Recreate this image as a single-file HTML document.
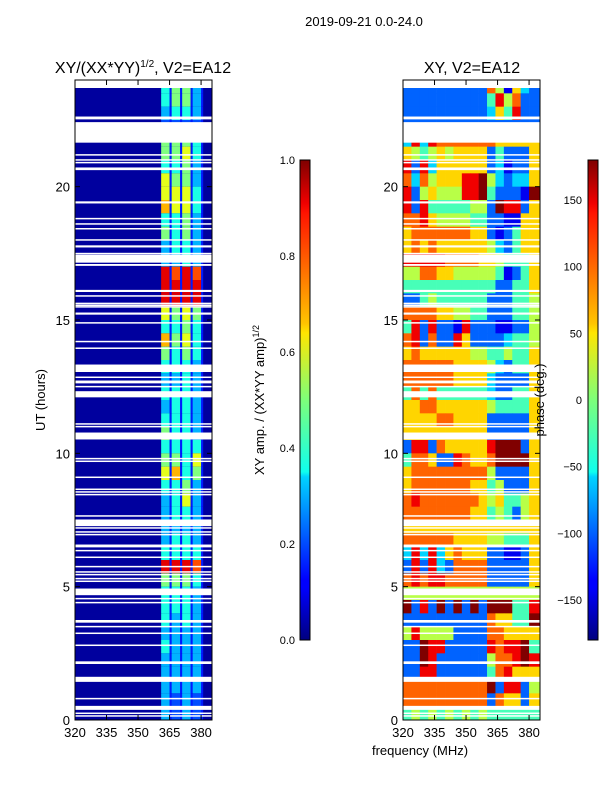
<!DOCTYPE html>
<html><head><meta charset="utf-8">
<style>
html,body{margin:0;padding:0;background:#fff;}
svg{display:block;font-family:"Liberation Sans","DejaVu Sans",sans-serif;}
</style></head>
<body>
<svg id="fig" width="600" height="800" viewBox="0 0 600 800" xmlns="http://www.w3.org/2000/svg">
<defs>
<linearGradient id="jet" x1="0" y1="1" x2="0" y2="0">
<stop offset="0" stop-color="#00007f"/>
<stop offset="0.11" stop-color="#0000ff"/>
<stop offset="0.125" stop-color="#0000ff"/>
<stop offset="0.34" stop-color="#00d4ff"/>
<stop offset="0.35" stop-color="#0fffee"/>
<stop offset="0.5" stop-color="#7dff7a"/>
<stop offset="0.64" stop-color="#ffe600"/>
<stop offset="0.66" stop-color="#ffc400"/>
<stop offset="0.89" stop-color="#ff1300"/>
<stop offset="0.91" stop-color="#f00000"/>
<stop offset="1" stop-color="#7f0000"/>
</linearGradient>
</defs>
<text x="364" y="26" font-size="13" text-anchor="middle">2019-09-21 0.0-24.0</text>
<text x="143" y="73" font-size="16" text-anchor="middle">XY/(XX*YY)<tspan font-size="10" dy="-6">1/2</tspan><tspan dy="6">, V2=EA12</tspan></text>
<text x="472" y="73" font-size="16" text-anchor="middle">XY, V2=EA12</text>
<g id="left"></g>
<g id="right"></g>
<g id="axes"></g>
<rect x="300" y="160" width="10" height="480" fill="url(#jet)" stroke="#000" stroke-width="1"/>
<rect x="588" y="160" width="10" height="480" fill="url(#jet)" stroke="#000" stroke-width="1"/>
<text transform="translate(264,400) rotate(-90)" font-size="13" text-anchor="middle">XY amp. / (XX*YY amp)<tspan font-size="9" dy="-5">1/2</tspan></text>
<text transform="translate(544,400) rotate(-90)" font-size="13" text-anchor="middle">phase (deg.)</text>
<text transform="translate(45,400) rotate(-90)" font-size="13" text-anchor="middle">UT (hours)</text>
<text x="420" y="755" font-size="13" text-anchor="middle">frequency (MHz)</text>
</svg>
<script>
// ---- data ----
const xTicks = [320, 335, 350, 365, 380];
const yTicks = [0, 5, 10, 15, 20];
const ampTicks = [0.0, 0.2, 0.4, 0.6, 0.8, 1.0];
const ampTickLabels = ["0.0", "0.2", "0.4", "0.6", "0.8", "1.0"];
const phaseTicks = [-150, -100, -50, 0, 50, 100, 150];
const phaseTickLabels = ["\u2212150", "\u2212100", "\u221250", "0", "50", "100", "150"];
// half-hour rows from 24h down to 0h; 4 digits = amplitude (x/10) of the four bright stripes
const ampRows = ["4553","4553","3443","2222","5554","5564","4453","6553","6664","7664","4453","5453","3443","3343",
"9898","9999","9999","6565","4454","7564","5454","4443","3343","4443","3443","4443","5443","4444","5546","6745",
"4453","3463","3443","3333","3443","4444","9998","5554","4443","4443","4343","3333","4333","3333","3333","3333","3232","3232"];
const ampBackground = 0.03;
const ampGap = 0.15;
// stripe index per 1-MHz channel starting at 360 MHz ("x" = gap/none)
const stripeChannels = "x0000x1111x2222x3333xxxxx";
// phase rows: 16 columns of 4 MHz (320..384), digit d -> -180 + 40*d deg
const phaseRows = ["2222222222751632","2222222222485722","2222222222364822","2222222222222222","3838777777766666",
"6545656666242226","8283666666231226","7375666889532336","8256555889422219","8284444455298826","7786555544221166",
"6777777766212466","6767666666532466","8888877776654446","5577665555541246","4444444444422446","2245444444222445",
"7777665544222445","4828221822211225","7827228622223445","6766666655445446","7777776666532446","7777776666322226",
"4747444444322446","6677666666544446","6666776666222226","6666666666222226","2882766666899926","4776228766799996",
"6777777777522226","6777777766452226","7877777776564456","7777777766454256","6666666666666666","7777776666554446",
"3838367666221126","2828327777222226","7878877777222226","5555555555555555","9282929292999448","2222222222766449",
"5855552222776666","2298822222878894","2298222222577898","2288222222478666","7777777777928825","7777777777276626","4545454545444444"];
// flagged (blank) intervals in hours [start, end]
const flagStart = [23.7,22.58,22.53,21.65,21.17,20.98,20.88,20.62,19.37,18.78,18.58,18.4,17.98,17.72,17.47,17.15,17.03,16.05,15.88,15.6,15.53,15.47,15.2,14.87,14.17,13.92,13.05,12.83,12.68,12.63,12.48,12.1,11.08,10.98,10.52,9.78,9.68,9.08,8.63,8.53,8.43,7.63,7.27,7.18,7.03,6.93,6.53,6.48,6.33,6.08,5.73,5.53,5.43,5.28,5.18,4.68,4.53,4.38,3.65,3.48,3.23,2.78,2.1,1.43,0.78,0.38,0.23,0.13];
const flagEnd   = [24.0,22.63,22.58,22.42,21.22,21.03,20.93,20.72,19.45,18.83,18.63,18.45,18.03,17.8,17.52,17.45,17.1,16.13,15.93,15.65,15.58,15.52,15.28,14.92,14.22,13.97,13.33,12.88,12.73,12.68,12.53,12.33,11.13,11.03,10.78,9.83,9.73,9.13,8.68,8.58,8.48,7.68,7.52,7.23,7.08,6.98,6.58,6.53,6.38,6.13,5.78,5.58,5.48,5.33,5.23,4.93,4.58,4.43,3.75,3.53,3.28,2.83,2.2,1.62,0.83,0.53,0.28,0.18];

// ---- scales ----
const NS = "http://www.w3.org/2000/svg";
const PL = {x0:75, x1:212}, PR = {x0:403, x1:540};
const Y0 = 720, Y1 = 80, FMIN = 320, FMAX = 385.2, HMAX = 24;
function yScale(h){ return Y0 - (h / HMAX) * (Y0 - Y1); }
function xScale(p, f){ return p.x0 + (f - FMIN) / (FMAX - FMIN) * (p.x1 - p.x0); }
function ampY(v){ return 640 - v * 480; }
function phaseY(v){ return 640 - (v + 180) / 360 * 480; }
function jet(v){
  v = Math.max(0, Math.min(1, v));
  const r = Math.max(0, Math.min(1, 1.5 - Math.abs(4 * v - 3)));
  const g = Math.max(0, Math.min(1, 1.5 - Math.abs(4 * v - 2)));
  const b = Math.max(0, Math.min(1, 1.5 - Math.abs(4 * v - 1)));
  return `rgb(${Math.round(r*255)},${Math.round(g*255)},${Math.round(b*255)})`;
}
function mk(tag, attrs, parent){
  const e = document.createElementNS(NS, tag);
  for (const k in attrs) e.setAttribute(k, attrs[k]);
  parent.appendChild(e); return e;
}
const gl = document.getElementById('left'), gr = document.getElementById('right'), ga = document.getElementById('axes');

// ---- left amplitude heatmap ----
ampRows.forEach((row, i) => {
  const hTop = HMAX - i * 0.5, hBot = hTop - 0.5;
  const yt = yScale(hTop), yb = yScale(hBot);
  const bg = mk('rect', {x: PL.x0, y: yt, width: PL.x1 - PL.x0, height: yb - yt + 0.5, fill: jet(ampBackground)}, gl);
  
  
  for (let c = 0; c < stripeChannels.length; c++) {
    const f = 360 + c, s = stripeChannels[c];
    let v = ampGap;
    if (s !== 'x') v = parseInt(row[parseInt(s)]) / 10;
    const x0 = xScale(PL, f), x1 = xScale(PL, Math.min(f + 1, FMAX));
    if (c >= 21 || c === 0) v = ampBackground;
    const r = mk('rect', {x: x0, y: yt, width: x1 - x0 + 0.3, height: yb - yt + 0.5, fill: jet(v)}, gl);
    
    
  }
});
// ---- right phase heatmap ----
phaseRows.forEach((row, i) => {
  const hTop = HMAX - i * 0.5, hBot = hTop - 0.5;
  const yt = yScale(hTop), yb = yScale(hBot);
  for (let c = 0; c < row.length; c++) {
    const f0 = FMIN + c * 4, f1 = c === row.length - 1 ? FMAX : f0 + 4;
    const deg = -180 + 40 * parseInt(row[c]);
    const x0 = xScale(PR, f0), x1 = xScale(PR, f1);
    const r = mk('rect', {x: x0, y: yt, width: x1 - x0 + 0.3, height: yb - yt + 0.5, fill: jet((deg + 180) / 360)}, gr);
    
    
  }
});
// ---- flags ----
[[gl, PL], [gr, PR]].forEach(([g, p]) => {
  flagStart.forEach((s, k) => {
    const yt = yScale(flagEnd[k]), yb = yScale(s);
    const r = mk('rect', {x: p.x0, y: yt, width: p.x1 - p.x0, height: Math.max(1.5, yb - yt), fill: '#fff'}, g);
    
    
  });
});
// ---- axes ----
[PL, PR].forEach((p, pi) => {
  const fr = mk('rect', {x: p.x0, y: Y1, width: p.x1 - p.x0, height: Y0 - Y1, fill: 'none', stroke: '#000', 'stroke-width': 1}, ga);
  
  
  xTicks.forEach(t => {
    const x = xScale(p, t);
    mk('line', {x1: x, y1: Y0, x2: x, y2: Y0 - 5, stroke: '#000'}, ga);
    mk('line', {x1: x, y1: Y1, x2: x, y2: Y1 + 5, stroke: '#000'}, ga);
    const tx = mk('text', {x: x, y: Y0 + 17, 'font-size': 13, 'text-anchor': 'middle'}, ga);
    tx.textContent = t;
    
    
  });
  yTicks.forEach(t => {
    const y = yScale(t);
    mk('line', {x1: p.x0, y1: y, x2: p.x0 + 5, y2: y, stroke: '#000'}, ga);
    mk('line', {x1: p.x1, y1: y, x2: p.x1 - 5, y2: y, stroke: '#000'}, ga);
    const tx = mk('text', {x: p.x0 - 5, y: y + 5, 'font-size': 13, 'text-anchor': 'end'}, ga);
    tx.textContent = t;
    
    
  });
});
ampTicks.forEach((t, k) => {
  const y = ampY(t);
  mk('line', {x1: 300, y1: y, x2: 304, y2: y, stroke: '#000'}, ga);
  mk('line', {x1: 310, y1: y, x2: 306, y2: y, stroke: '#000'}, ga);
  const tx = mk('text', {x: 295, y: y + 4, 'font-size': 11, 'text-anchor': 'end'}, ga);
  tx.textContent = ampTickLabels[k];
  
  
});
phaseTicks.forEach((t, k) => {
  const y = phaseY(t);
  mk('line', {x1: 588, y1: y, x2: 592, y2: y, stroke: '#000'}, ga);
  mk('line', {x1: 598, y1: y, x2: 594, y2: y, stroke: '#000'}, ga);
  const tx = mk('text', {x: 582, y: y + 4, 'font-size': 11, 'text-anchor': 'end'}, ga);
  tx.textContent = phaseTickLabels[k];
  
  
});
// move labels on top of heatmaps
const svg = document.getElementById('fig');
svg.querySelectorAll('text').forEach(t => svg.appendChild(t));
</script>
</body></html>
